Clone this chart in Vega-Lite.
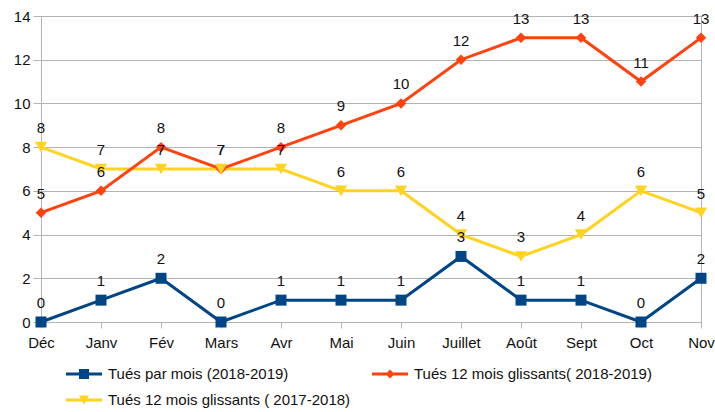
{
  "$schema": "https://vega.github.io/schema/vega-lite/v6.json",
  "width": 660,
  "height": 306,
  "autosize": {"type": "none"},
  "padding": {"left": 41, "top": 16, "right": 14, "bottom": 90},
  "background": "white",
  "config": {
    "font": "'Liberation Sans', Arial, sans-serif",
    "view": {"stroke": "#b3b3b3", "strokeWidth": 1},
    "axis": {
      "labelFont": "'Liberation Sans', Arial, sans-serif",
      "labelFontSize": 15,
      "labelColor": "#111111",
      "domainColor": "#b3b3b3",
      "tickColor": "#b3b3b3",
      "gridColor": "#b3b3b3",
      "title": null
    }
  },
  "data": {
    "values": [
      {"m": "Déc", "s": "Tués par mois (2018-2019)", "v": 0},
      {"m": "Janv", "s": "Tués par mois (2018-2019)", "v": 1},
      {"m": "Fév", "s": "Tués par mois (2018-2019)", "v": 2},
      {"m": "Mars", "s": "Tués par mois (2018-2019)", "v": 0},
      {"m": "Avr", "s": "Tués par mois (2018-2019)", "v": 1},
      {"m": "Mai", "s": "Tués par mois (2018-2019)", "v": 1},
      {"m": "Juin", "s": "Tués par mois (2018-2019)", "v": 1},
      {"m": "Juillet", "s": "Tués par mois (2018-2019)", "v": 3},
      {"m": "Août", "s": "Tués par mois (2018-2019)", "v": 1},
      {"m": "Sept", "s": "Tués par mois (2018-2019)", "v": 1},
      {"m": "Oct", "s": "Tués par mois (2018-2019)", "v": 0},
      {"m": "Nov", "s": "Tués par mois (2018-2019)", "v": 2},
      {"m": "Déc", "s": "Tués 12 mois glissants( 2018-2019)", "v": 5},
      {"m": "Janv", "s": "Tués 12 mois glissants( 2018-2019)", "v": 6},
      {"m": "Fév", "s": "Tués 12 mois glissants( 2018-2019)", "v": 8},
      {"m": "Mars", "s": "Tués 12 mois glissants( 2018-2019)", "v": 7},
      {"m": "Avr", "s": "Tués 12 mois glissants( 2018-2019)", "v": 8},
      {"m": "Mai", "s": "Tués 12 mois glissants( 2018-2019)", "v": 9},
      {"m": "Juin", "s": "Tués 12 mois glissants( 2018-2019)", "v": 10},
      {"m": "Juillet", "s": "Tués 12 mois glissants( 2018-2019)", "v": 12},
      {"m": "Août", "s": "Tués 12 mois glissants( 2018-2019)", "v": 13},
      {"m": "Sept", "s": "Tués 12 mois glissants( 2018-2019)", "v": 13},
      {"m": "Oct", "s": "Tués 12 mois glissants( 2018-2019)", "v": 11},
      {"m": "Nov", "s": "Tués 12 mois glissants( 2018-2019)", "v": 13},
      {"m": "Déc", "s": "Tués 12 mois glissants ( 2017-2018)", "v": 8},
      {"m": "Janv", "s": "Tués 12 mois glissants ( 2017-2018)", "v": 7},
      {"m": "Fév", "s": "Tués 12 mois glissants ( 2017-2018)", "v": 7},
      {"m": "Mars", "s": "Tués 12 mois glissants ( 2017-2018)", "v": 7},
      {"m": "Avr", "s": "Tués 12 mois glissants ( 2017-2018)", "v": 7},
      {"m": "Mai", "s": "Tués 12 mois glissants ( 2017-2018)", "v": 6},
      {"m": "Juin", "s": "Tués 12 mois glissants ( 2017-2018)", "v": 6},
      {"m": "Juillet", "s": "Tués 12 mois glissants ( 2017-2018)", "v": 4},
      {"m": "Août", "s": "Tués 12 mois glissants ( 2017-2018)", "v": 3},
      {"m": "Sept", "s": "Tués 12 mois glissants ( 2017-2018)", "v": 4},
      {"m": "Oct", "s": "Tués 12 mois glissants ( 2017-2018)", "v": 6},
      {"m": "Nov", "s": "Tués 12 mois glissants ( 2017-2018)", "v": 5}
    ]
  },
  "encoding": {
    "x": {
      "field": "m",
      "type": "ordinal",
      "sort": ["Déc", "Janv", "Fév", "Mars", "Avr", "Mai", "Juin", "Juillet", "Août", "Sept", "Oct", "Nov"],
      "scale": {"type": "point", "padding": 0},
      "axis": {"labelAngle": 0, "tickSize": 6, "labelPadding": 7, "grid": false, "domain": true}
    },
    "y": {
      "field": "v",
      "type": "quantitative",
      "scale": {"domain": [0, 14], "nice": false},
      "axis": {"values": [0, 2, 4, 6, 8, 10, 12, 14], "tickSize": 8, "labelPadding": 3, "grid": true, "domain": true}
    }
  },
  "layer": [
    {
      "transform": [{"filter": "datum.s === 'Tués 12 mois glissants ( 2017-2018)'"}],
      "mark": {"type": "line", "strokeWidth": 3, "color": "#ffd320"},
      "encoding": {}
    },
    {
      "transform": [{"filter": "datum.s === 'Tués 12 mois glissants( 2018-2019)'"}],
      "mark": {"type": "line", "strokeWidth": 3, "color": "#ff420e"},
      "encoding": {}
    },
    {
      "transform": [{"filter": "datum.s === 'Tués par mois (2018-2019)'"}],
      "mark": {"type": "line", "strokeWidth": 3, "color": "#004586"},
      "encoding": {}
    },
    {
      "transform": [{"filter": "datum.s === 'Tués par mois (2018-2019)'"}],
      "mark": {"type": "point", "shape": "square", "filled": true, "opacity": 1, "size": 121, "color": "#004586"},
      "encoding": {}
    },
    {
      "transform": [{"filter": "datum.s === 'Tués 12 mois glissants( 2018-2019)'"}],
      "mark": {"type": "point", "shape": "diamond", "filled": true, "opacity": 1, "size": 110, "color": "#ff420e"},
      "encoding": {}
    },
    {
      "transform": [{"filter": "datum.s === 'Tués 12 mois glissants ( 2017-2018)'"}],
      "mark": {"type": "point", "shape": "triangle-down", "filled": true, "opacity": 1, "size": 150, "color": "#ffd320"},
      "encoding": {}
    },
    {
      "mark": {"type": "text", "baseline": "alphabetic", "dy": -14, "fontSize": 15, "color": "#111111", "font": "'Liberation Sans', Arial, sans-serif"},
      "encoding": {"text": {"field": "v", "type": "quantitative"}}
    },
    {
      "transform": [{"filter": "false"}],
      "mark": {"type": "point", "filled": true, "opacity": 1},
      "encoding": {
        "color": {
          "field": "s", "type": "nominal",
          "scale": {
            "domain": ["Tués par mois (2018-2019)", "Tués 12 mois glissants( 2018-2019)", "Tués 12 mois glissants ( 2017-2018)"],
            "range": ["#004586", "#ff420e", "#ffd320"]
          },
          "legend": {
            "orient": "none",
            "legendX": 25,
            "legendY": 340,
            "title": null,
            "direction": "horizontal",
            "columns": 2,
            "columnPadding": 21,
            "rowPadding": -15,
            "symbolSize": 1296,
            "symbolOpacity": 1,
            "symbolStrokeWidth": 0,
            "labelFontSize": 15,
            "labelFont": "'Liberation Sans', Arial, sans-serif",
            "labelColor": "#111111",
            "labelOffset": 6,
            "labelLimit": 400
          }
        },
        "shape": {
          "field": "s", "type": "nominal",
          "scale": {
            "domain": ["Tués par mois (2018-2019)", "Tués 12 mois glissants( 2018-2019)", "Tués 12 mois glissants ( 2017-2018)"],
            "range": [
              "M-1,-0.085H1V0.085H-1Z M-0.28,-0.28H0.28V0.28H-0.28Z",
              "M-1,-0.085H1V0.085H-1Z M0,-0.25L0.25,0L0,0.25L-0.25,0Z",
              "M-1,-0.085H1V0.085H-1Z M-0.28,-0.25L0.28,-0.25L0,0.25Z"
            ]
          }
        }
      }
    }
  ]
}
